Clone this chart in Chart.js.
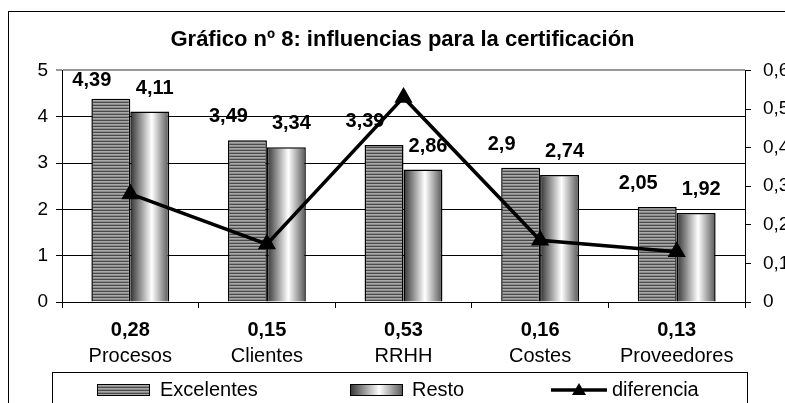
<!DOCTYPE html>
<html>
<head>
<meta charset="utf-8">
<script src="https://cdn.jsdelivr.net/npm/chart.js@4.4.1/dist/chart.umd.min.js"></script>
<style>
  html, body { margin: 0; padding: 0; background: #fff; overflow: hidden; }
  #marco { position: absolute; left: 8px; top: 11px; width: 830px; height: 440px; border: 1px solid #000; }
  #grafico { position: absolute; left: 0; top: 0; }
</style>
</head>
<body>
<div id="marco"></div>
<canvas id="grafico" width="805" height="403"></canvas>
<script>
const titulo = 'Gráfico nº 8: influencias para la certificación';
const categorias = ['Procesos', 'Clientes', 'RRHH', 'Costes', 'Proveedores'];
const excelentes = [4.39, 3.49, 3.39, 2.9, 2.05];
const resto = [4.11, 3.34, 2.86, 2.74, 1.92];
const diferencia = [0.28, 0.15, 0.53, 0.16, 0.13];
const nombres = ['Excelentes', 'Resto', 'diferencia'];

const coma = v => String(v).replace('.', ',');
const FUENTE = '"Liberation Sans", Arial, sans-serif';
const ANCHO_CAT = 0.57;

Chart.defaults.font.family = FUENTE;
Chart.defaults.color = '#000';

// rayado horizontal de la serie "Excelentes"
const tela = document.createElement('canvas');
tela.width = 4;
tela.height = 3;
const tctx = tela.getContext('2d');
tctx.fillStyle = '#4a4a4a'; tctx.fillRect(0, 0, 4, 1);
tctx.fillStyle = '#a9a9a9'; tctx.fillRect(0, 1, 4, 1);
tctx.fillStyle = '#8c8c8c'; tctx.fillRect(0, 2, 4, 1);
const rayado = document.getElementById('grafico').getContext('2d').createPattern(tela, 'repeat');

function cilindro(c, izq, ancho) {
  const g = c.createLinearGradient(izq, 0, izq + ancho, 0);
  g.addColorStop(0, '#333');
  g.addColorStop(0.55, '#fff');
  g.addColorStop(1, '#555');
  return g;
}

function fondoResto(ctx) {
  const chart = ctx.chart;
  const x = chart.scales.x;
  if (!x || !x.width) return '#ddd';
  const ancho = x.width / categorias.length * ANCHO_CAT / 2;
  return cilindro(chart.ctx, x.getPixelForValue(ctx.dataIndex), ancho);
}

// valores encima de las barras
const etiquetas = {
  id: 'etiquetas',
  afterDatasetsDraw(chart) {
    const c = chart.ctx;
    c.save();
    c.font = 'bold 20px ' + FUENTE;
    c.fillStyle = '#000';
    c.textAlign = 'center';
    c.textBaseline = 'alphabetic';
    chart.data.datasets.forEach((ds, d) => {
      if (ds.type !== 'bar') return;
      const dx = ds.label === nombres[0] ? -19 : 5;
      chart.getDatasetMeta(d).data.forEach((barra, i) => {
        c.fillText(coma(ds.data[i]), barra.x + dx, Math.max(barra.y - 18, 86));
      });
    });
    c.restore();
  }
};

const leyenda = {
  id: 'leyenda',
  afterDraw(chart) {
    const c = chart.ctx;
    c.save();
    c.strokeStyle = '#000';
    c.lineWidth = 1;
    c.strokeRect(52.5, 372.5, 695, 60);
    const yc = 390;
    c.font = '20px ' + FUENTE;
    c.fillStyle = '#000';
    c.textBaseline = 'middle';
    // Excelentes
    c.fillStyle = rayado;
    c.fillRect(97, yc - 6, 53, 12);
    c.strokeRect(97.5, yc - 5.5, 52, 11);
    c.fillStyle = '#000';
    c.fillText(nombres[0], 160, yc);
    // Resto
    c.fillStyle = cilindro(c, 350, 53);
    c.fillRect(350, yc - 6, 53, 12);
    c.strokeRect(350.5, yc - 5.5, 52, 11);
    c.fillStyle = '#000';
    c.fillText(nombres[1], 412, yc);
    // diferencia
    c.lineWidth = 3.5;
    c.beginPath();
    c.moveTo(551, yc);
    c.lineTo(607, yc);
    c.stroke();
    c.beginPath();
    c.moveTo(579, yc - 7);
    c.lineTo(586, yc + 5);
    c.lineTo(572, yc + 5);
    c.closePath();
    c.fill();
    c.fillText(nombres[2], 612, yc);
    c.restore();
  }
};

new Chart(document.getElementById('grafico'), {
  data: {
    labels: categorias,
    datasets: [
      {
        type: 'line',
        label: nombres[2],
        data: diferencia,
        yAxisID: 'y1',
        borderColor: '#000',
        borderWidth: 3.5,
        pointStyle: 'triangle',
        pointRadius: 7,
        pointBackgroundColor: '#000',
        pointBorderColor: '#000',
        tension: 0,
        order: 0
      },
      {
        type: 'bar',
        label: nombres[0],
        data: excelentes,
        yAxisID: 'y',
        backgroundColor: rayado,
        borderColor: '#000',
        borderWidth: 1.5,
        categoryPercentage: ANCHO_CAT,
        barPercentage: 1,
        order: 1
      },
      {
        type: 'bar',
        label: nombres[1],
        data: resto,
        yAxisID: 'y',
        backgroundColor: fondoResto,
        borderColor: '#000',
        borderWidth: 1.5,
        categoryPercentage: ANCHO_CAT,
        barPercentage: 1,
        order: 1
      }
    ]
  },
  options: {
    responsive: false,
    animation: false,
    layout: { padding: { left: 0, right: 0, top: 0, bottom: 33 } },
    plugins: {
      legend: { display: false },
      tooltip: { enabled: false },
      title: {
        display: true,
        text: titulo,
        font: { size: 22, weight: 'bold' },
        color: '#000',
        padding: { top: 27, bottom: 17 }
      }
    },
    scales: {
      x: {
        type: 'category',
        position: 'bottom',
        grid: { display: true, offset: true, drawOnChartArea: false, color: '#000', tickLength: 6 },
        border: { color: '#000', width: 1 },
        ticks: {
          font: { size: 20, weight: 'bold' },
          padding: 10,
          maxRotation: 0,
          callback: (v, i) => coma(diferencia[i])
        },
        afterFit: s => { s.height = 38; }
      },
      x2: {
        type: 'category',
        position: 'bottom',
        labels: categorias,
        offset: true,
        grid: { display: false, drawTicks: false },
        border: { display: false },
        ticks: { font: { size: 20 }, padding: 4, maxRotation: 0 },
        afterFit: s => { s.height = 30; }
      },
      y: {
        position: 'left',
        min: 0,
        max: 5,
        ticks: { stepSize: 1, font: { size: 19 }, padding: 8 },
        grid: {
          color: t => t.tick.value === 5 ? '#999' : '#000',
          lineWidth: t => t.tick.value === 5 ? 2 : 1,
          tickLength: 6
        },
        border: { color: '#000', width: 1 },
        afterFit: s => { s.width = 62; }
      },
      y1: {
        position: 'right',
        min: 0,
        max: 0.6,
        ticks: {
          stepSize: 0.1,
          font: { size: 19 },
          padding: 12,
          callback: v => v === 0 ? '0' : coma(v.toFixed(1))
        },
        grid: { drawOnChartArea: false, color: '#000', tickLength: 6 },
        border: { color: '#000', width: 1 },
        afterFit: s => { s.width = 60; }
      }
    }
  },
  plugins: [etiquetas, leyenda]
});
</script>
</body>
</html>
